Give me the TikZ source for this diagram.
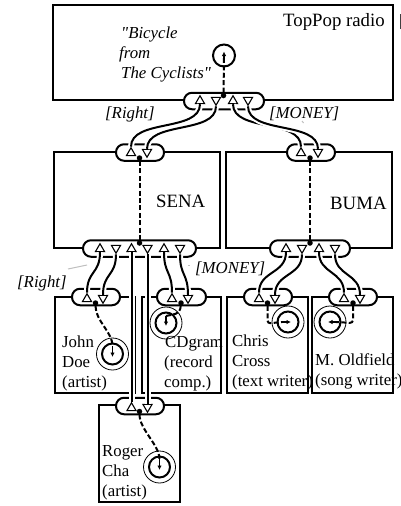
\documentclass[tikz,border=0pt]{standalone}
\usepackage{fontspec}
\setmainfont{Liberation Serif}[Ligatures=TeXOff]
\usetikzlibrary{shapes.geometric,arrows.meta}
\tikzset{
  x=1pt,y=-1pt,
  box/.style={draw=black,line width=2pt,fill=white,inner sep=0pt},
  pill/.style={draw=black,line width=2pt,fill=white,rounded corners=8pt,minimum height=16.5pt,inner sep=0pt},
  tri/.style={regular polygon,regular polygon sides=3,draw=black,line width=1.1pt,fill=white,inner sep=0pt,minimum size=10.5pt},
  up/.style={tri},
  down/.style={tri,shape border rotate=180},
  pdot/.style={circle,fill=black,inner sep=0pt,minimum size=5.5pt},
  wirestyle/.style={line width=2pt,preaction={draw=white,line width=6pt}},
  link/.style={line width=2pt,dash pattern=on 5pt off 2.4pt},
  inarrow/.style={line width=1.7pt,-{Latex[length=4.5pt,width=4.5pt]}},
  outerring/.style={circle,draw=black,line width=.8pt,minimum size=32pt,inner sep=0pt},
  innerring/.style={circle,draw=black,line width=2pt,minimum size=21pt,inner sep=0pt},
  lab/.style={anchor=base west,inner sep=0pt,font=\fontsize{16.8}{20}\selectfont},
  big/.style={anchor=base west,inner sep=0pt,font=\fontsize{18.8}{22}\selectfont},
  ital/.style={anchor=base west,inner sep=0pt,font=\fontsize{16.8}{20}\selectfont\itshape},
  lead/.style={draw=black!25,line width=1pt},
}
\newcommand\wire[3]{\draw[wirestyle] (#1.south) .. controls +(0,#3) and +(0,-#3) .. (#2.north);}
\begin{document}
\begin{tikzpicture}
\useasboundingbox (0,0) rectangle (401,506);
% boxes
\node[box,minimum width=340pt,minimum height=95pt] (topbox) at (223,52.5) {};
\node[box,minimum width=166pt,minimum height=96pt] (senabox) at (137,200) {};
\node[box,minimum width=166pt,minimum height=96pt] (bumabox) at (309,200) {};
\node[box,minimum width=80pt,minimum height=96pt] (johnbox) at (95,345) {};
\node[box,minimum width=79pt,minimum height=96pt] (cdbox) at (181.5,345) {};
\node[box,minimum width=81pt,minimum height=96pt] (chrisbox) at (267.5,345) {};
\node[box,minimum width=81pt,minimum height=96pt] (oldbox) at (352.5,345) {};
\node[box,minimum width=81pt,minimum height=97pt] (rogerbox) at (139.5,453.5) {};
% pills
\node[pill,minimum width=80pt] (toppill) at (224,101) {};
\node[pill,minimum width=48pt] (senatop) at (140,152.5) {};
\node[pill,minimum width=113pt] (senabot) at (139.5,248.5) {};
\node[pill,minimum width=48pt] (bumatop) at (311,152.5) {};
\node[pill,minimum width=80pt] (bumabot) at (310,248.5) {};
\node[pill,minimum width=48pt] (johnpill) at (96,297) {};
\node[pill,minimum width=49pt] (cdpill) at (181.5,297) {};
\node[pill,minimum width=48pt] (chrispill) at (268,297) {};
\node[pill,minimum width=48pt] (oldpill) at (353,297) {};
\node[pill,minimum width=48pt] (rogerpill) at (140,406) {};
% triangles
\node[up] (t1) at (200,101) {}; \node[down] (t2) at (216,100) {};
\node[up] (t3) at (233,101) {}; \node[down] (t4) at (248,100) {};
\node[up] (s1) at (131,153) {}; \node[down] (s2) at (147,152) {};
\node[up] (b1) at (301,153) {}; \node[down] (b2) at (318,152) {};
\node[up] (sb1) at (100,249) {}; \node[down] (sb2) at (116,248) {};
\node[up] (sb3) at (131.5,249) {}; \node[down] (sb4) at (147.5,248) {};
\node[up] (sb5) at (164,249) {}; \node[down] (sb6) at (180,248) {};
\node[up] (bb1) at (286,249) {}; \node[down] (bb2) at (302,248) {};
\node[up] (bb3) at (319,249) {}; \node[down] (bb4) at (335,248) {};
\node[up] (j1) at (87,299) {}; \node[down] (j2) at (103,298) {};
\node[up] (c1) at (172,299) {}; \node[down] (c2) at (188,298) {};
\node[up] (x1) at (259,299) {}; \node[down] (x2) at (275,298) {};
\node[up] (o1) at (344,299) {}; \node[down] (o2) at (360,298) {};
\node[up] (r1) at (131.5,408) {}; \node[down] (r2) at (147.5,407) {};
% wires
\wire{t1}{s1}{28}
\wire{t2}{s2}{28}
\wire{t3}{b1}{28}
\wire{t4}{b2}{28}
\wire{sb1}{j1}{22}
\wire{sb2}{j2}{22}
\wire{sb3}{r1}{0}
\wire{sb4}{r2}{0}
\wire{sb5}{c1}{22}
\wire{sb6}{c2}{22}
\wire{bb1}{x1}{22}
\wire{bb2}{x2}{22}
\wire{bb3}{o1}{22}
\wire{bb4}{o2}{22}
% rings
\node[innerring,minimum size=22pt] (topring) at (224,55.5) {};
\node[outerring] (johnouter) at (112.5,354) {};
\node[innerring] (johnring) at (112.5,354) {};
\node[outerring] (cdouter) at (166,323) {};
\node[innerring] (cdring) at (166,323) {};
\node[outerring] (chrisouter) at (288,322) {};
\node[innerring] (chrisring) at (288,322) {};
\node[outerring] (oldouter) at (330,322) {};
\node[innerring] (oldring) at (330,322) {};
\node[outerring] (rogerouter) at (159.5,467) {};
\node[innerring] (rogerring) at (159.5,467) {};
% dots
\node[pdot] (topdot) at (223.5,95.5) {};
\node[pdot] (senadot) at (139.5,158) {};
\node[pdot] (senadot2) at (139.5,243) {};
\node[pdot] (bumadot) at (310,158) {};
\node[pdot] (bumadot2) at (310,243) {};
\node[pdot] (johndot) at (95.5,303) {};
\node[pdot] (cddot) at (181,303) {};
\node[pdot] (chrisdot) at (267.5,303) {};
\node[pdot] (olddot) at (353,303) {};
\node[pdot] (rogerdot) at (139.5,411.5) {};
% links
\coordinate (topin) at (224,58);
\coordinate (topend) at (224,51.5);
\draw[link] (topdot) -- (topin);
\draw[inarrow] (topin) -- (topend);
\coordinate (johnin) at (112.5,346);
\coordinate (johnend) at (112.5,357);
\draw[link] (johndot) .. controls +(0,18) and +(0,-14) .. (johnin);
\draw[inarrow] (johnin) -- (johnend);
\coordinate (rogerin) at (159.5,459);
\coordinate (rogerend) at (159.5,470);
\draw[link] (rogerdot) .. controls +(0,18) and +(0,-14) .. (rogerin);
\draw[inarrow] (rogerin) -- (rogerend);
\coordinate (cdin) at (166,316);
\coordinate (cdend) at (166,326);
\draw[link] (cddot) .. controls +(-1,12) and +(8,-2) .. (cdin);
\draw[inarrow] (cdin) -- (cdend);
\coordinate (chrisin) at (282,322);
\coordinate (chrisend) at (291,322);
\draw[link,rounded corners=3pt] (chrisdot) -- (267.5,323.5) -- (chrisin);
\draw[inarrow] (chrisin) -- (chrisend);
\coordinate (oldin) at (336,322);
\coordinate (oldend) at (328,322);
\draw[link,rounded corners=3pt] (olddot) -- (353,323) -- (oldin);
\draw[inarrow] (oldin) -- (oldend);
\draw[link] (senadot) -- (senadot2);
\draw[link] (bumadot) -- (bumadot2);
% text
\node[big] (t-top) at (283,26) {TopPop radio};
\node[ital] (t-b1) at (121,38) {"Bicycle};
\node[ital] (t-b2) at (119,58) {from};
\node[ital] (t-b3) at (121,78) {The Cyclists"};
\node[ital] (t-r1) at (105,118) {[Right]};
\node[ital] (t-m1) at (269,118) {[MONEY]};
\node[big] (t-sena) at (156,207) {SENA};
\node[big] (t-buma) at (330,209) {BUMA};
\node[ital] (t-r2) at (17,287) {[Right]};
\node[ital] (t-m2) at (195,273) {[MONEY]};
\node[lab] (j-1) at (62,347) {John};
\node[lab] (j-2) at (62,367) {Doe};
\node[lab] (j-3) at (62,387) {(artist)};
\node[lab] (c-1) at (165,347) {CDgram};
\node[lab] (c-2) at (164,367) {(record};
\node[lab] (c-3) at (164,387) {comp.)};
\node[lab] (x-1) at (232,346) {Chris};
\node[lab] (x-2) at (232,366) {Cross};
\node[lab] (x-3) at (232,386) {(text writer)};
\node[lab] (o-1) at (315,365) {M. Oldfield};
\node[lab] (o-2) at (315,385) {(song writer)};
\node[lab] (r-1) at (102,456) {Roger};
\node[lab] (r-2) at (102,476) {Cha};
\node[lab] (r-3) at (102,496) {(artist)};
% leaders and marks
\coordinate (la) at (68,269); \coordinate (lb) at (87,265);
\draw[lead] (la) -- (lb);
\coordinate (ma) at (188,265); \coordinate (mb) at (190,265);
\draw[lead] (ma) -- (mb);
\coordinate (ea) at (302,121); \coordinate (eb) at (303.5,123);
\draw[lead] (ea) -- (eb);
\coordinate (fa) at (400,14); \coordinate (fb) at (400,29);
\draw[black!75,line width=1pt] (fa) -- (fb);
\end{tikzpicture}
\end{document}
